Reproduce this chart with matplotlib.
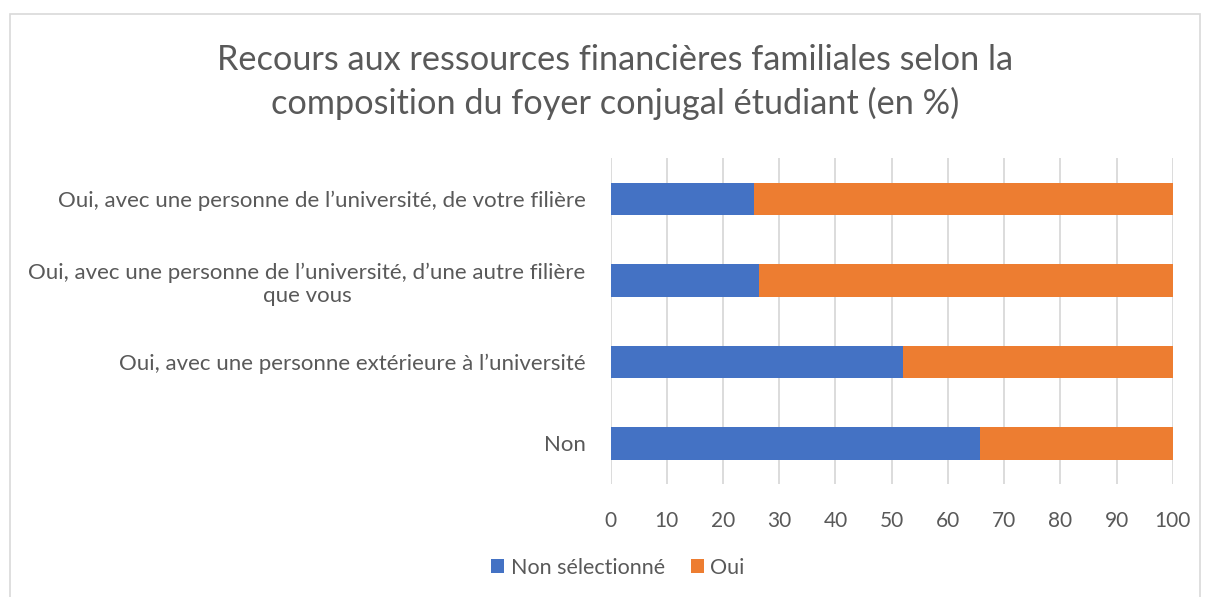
import matplotlib
matplotlib.use("Agg")
import matplotlib.pyplot as plt
from matplotlib.patches import Rectangle

categories = [
    "Non",
    "Oui, avec une personne extérieure à l’université",
    "Oui, avec une personne de l’université, d’une autre filière\nque vous",
    "Oui, avec une personne de l’université, de votre filière",
]
non_selectionne = [65.7, 52.0, 26.4, 25.5]
oui = [34.3, 48.0, 73.6, 74.5]
series_names = ["Non sélectionné", "Oui"]
xticks = list(range(0, 101, 10))

BLUE = "#4472C4"
ORANGE = "#ED7D31"
TEXT = "#595959"
GRID = "#D9D9D9"
FONT = ["Lato", "DejaVu Sans"]

plt.rcParams["font.family"] = FONT

fig = plt.figure(figsize=(12.09, 5.97), dpi=100)
ax = fig.add_axes([0.505, 0.189, 0.465, 0.546])

y = list(range(len(categories)))
ax.barh(y, non_selectionne, height=0.4, color=BLUE, label=series_names[0], zorder=3)
ax.barh(y, oui, left=non_selectionne, height=0.4, color=ORANGE, label=series_names[1], zorder=3)

ax.set_xlim(0, 100)
ax.set_ylim(-0.5, len(categories) - 0.5)
ax.set_xticks(xticks)
ax.set_yticks(y)
ax.set_yticklabels(categories)
for lbl in ax.get_yticklabels():
    lbl.set_multialignment("center")
ax.tick_params(axis="both", length=0, colors=TEXT)
ax.tick_params(axis="x", pad=19, labelsize=15)
ax.tick_params(axis="y", pad=18, labelsize=16)
ax.grid(axis="x", color=GRID, linewidth=1.3, zorder=0)
for s in ax.spines.values():
    s.set_visible(False)

fig.text(0.509, 0.862, "Recours aux ressources financières familiales selon la\ncomposition du foyer conjugal étudiant (en %)",
         ha="center", va="center", fontsize=24.7, color=TEXT, linespacing=1.4)

leg = fig.legend(loc="center", bbox_to_anchor=(0.511, 0.049), ncol=2, frameon=False,
                 fontsize=15.5, handlelength=0.6, handleheight=0.6, handletextpad=0.3,
                 columnspacing=1.2)
for t in leg.get_texts():
    t.set_color(TEXT)

fig.patches.append(Rectangle((10 / 1209, -0.01), 1190 / 1209, 1 - 14 / 597 + 0.01,
                             transform=fig.transFigure, fill=False, edgecolor="#D9D9D9",
                             linewidth=1.2))

fig.savefig("out.png", dpi=100, facecolor="white")
